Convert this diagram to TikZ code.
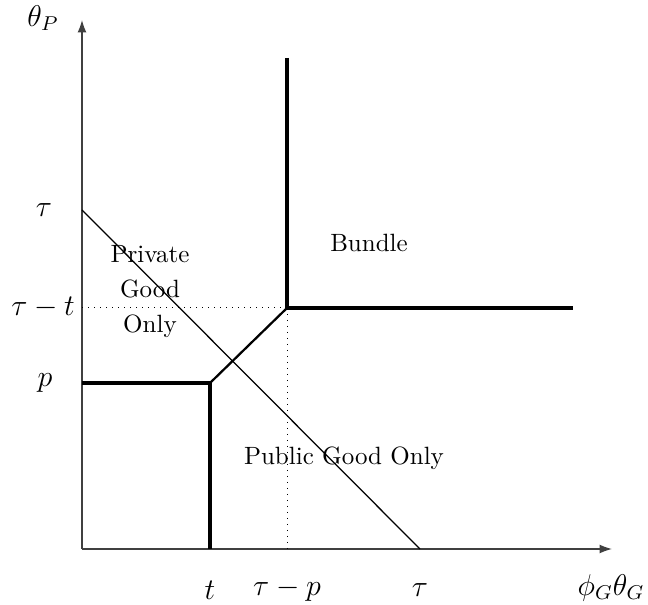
\documentclass[tikz,border=0pt]{standalone}
\usepackage{tikz}
\usetikzlibrary{arrows.meta}
\begin{document}
\begin{tikzpicture}[x=0.4pt,y=-0.4pt,
  axis/.style={-{Latex[length=5pt,width=3.6pt]}, draw=black!75, line width=0.5pt},
  bound/.style={line width=1.3pt},
  guide/.style={dotted, line width=0.4pt},
  region/.style={align=center, font=\normalsize},
  ticklab/.style={font=\large}
]
  \useasboundingbox (0,0) rectangle (648,605);
  % points of the figure
  \coordinate (O) at (82,549);
  \coordinate (ytop) at (82,20);
  \coordinate (xend) at (612,549);
  \coordinate (pA) at (82,383);
  \coordinate (tP) at (210,383);
  \coordinate (tO) at (210,549);
  \coordinate (kink) at (287,308);
  \coordinate (kinkUp) at (287,58);
  \coordinate (kinkR) at (573,308);
  \coordinate (tauY) at (82,210);
  \coordinate (tauX) at (420,549);
  \coordinate (ttY) at (82,308);
  \coordinate (tpX) at (287,549);

  % axes
  \draw[axis] (O) -- (ytop);
  \draw[axis] (O) -- (xend);
  \node[ticklab] (thetaP) at (43,18) {$\theta_P$};
  \node[ticklab] (phiG) at (611,588) {$\phi_G\theta_G$};

  % tick labels
  \node[ticklab] (tauLy) at (44,210) {$\tau$};
  \node[ticklab] (ttLy) at (43,308) {$\tau-t$};
  \node[ticklab] (pLy) at (45,383) {$p$};
  \node[ticklab] (tLx) at (210,590) {$t$};
  \node[ticklab] (tpLx) at (287,590) {$\tau-p$};
  \node[ticklab] (tauLx) at (420,590) {$\tau$};

  % dotted guides
  \draw[guide] (ttY) -- (kink);
  \draw[guide] (kink) -- (tpX);

  % budget line
  \draw[line width=0.5pt] (tauY) -- (tauX);

  % region boundaries
  \draw[bound] (pA) -- (tP) -- (tO);
  \draw[line width=0.9pt] (tP) -- (kink);
  \draw[bound] (kinkUp) -- (kink) -- (kinkR);

  % regions
  \node[region] (priv) at (150,292) {Private\\[2pt]Good\\[2pt]Only};
  \node[region] (bund) at (369,243) {Bundle};
  \node[region] (pub) at (344,458) {Public Good Only};
\end{tikzpicture}
\end{document}
